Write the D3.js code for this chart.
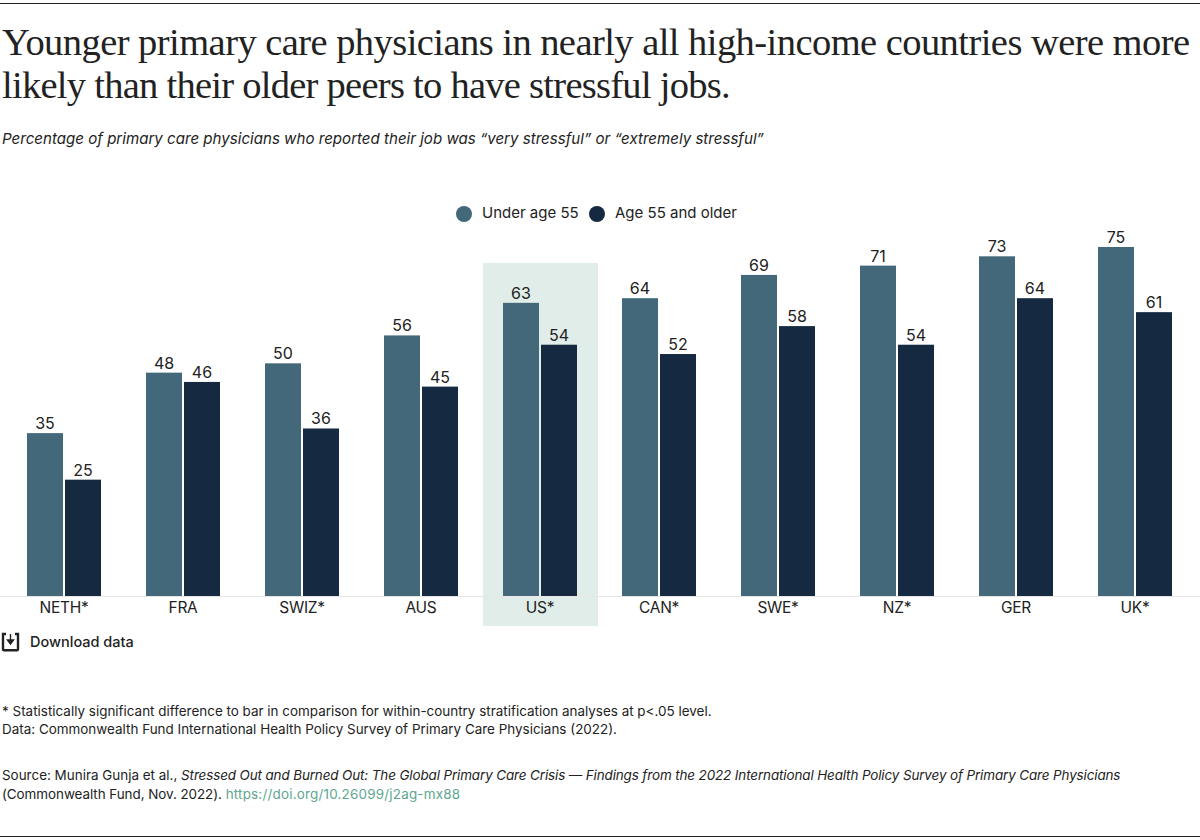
<!DOCTYPE html>
<html>
<head>
<meta charset="utf-8">
<script src="https://cdn.jsdelivr.net/npm/d3@7"></script>
<style>
  html, body { margin: 0; padding: 0; background: #fff; }
  text { font-family: Inter, "Liberation Sans", sans-serif; fill: #222; }
  .title { font-family: "Liberation Serif", serif; font-size: 38.5px; fill: #222; }
  .note { font-size: 13.45px; }
  .axis text { font-size: 15.5px; letter-spacing: -0.3px; fill: #222; }
  .axis path, .axis line { display: none; }
</style>
</head>
<body>
<div class="canvas"></div>
<script>
const countries = ['NETH*', 'FRA', 'SWIZ*', 'AUS', 'US*', 'CAN*', 'SWE*', 'NZ*', 'GER', 'UK*'];
const seriesNames = ['Under age 55', 'Age 55 and older'];
const underAge55 = [35, 48, 50, 56, 63, 64, 69, 71, 73, 75];
const age55Older = [25, 46, 36, 45, 54, 52, 58, 54, 64, 61];
const colors = ['#436879', '#152a40'];
const highlighted = 'US*';

const svg = d3.select('.canvas')
    .append('svg')
    .attr('width', 1200)
    .attr('height', 840)
    .style('display', 'block');

//===============rules and headline===========================//
svg.append('rect').attr('x', 0).attr('y', 3).attr('width', 1200).attr('height', 1).attr('fill', '#222');
svg.append('rect').attr('x', 0).attr('y', 836).attr('width', 1200).attr('height', 1).attr('fill', '#222');

svg.append('text').attr('class', 'title').attr('x', 2).attr('y', 55)
    .style('letter-spacing', '-0.55px')
    .text('Younger primary care physicians in nearly all high-income countries were more');
svg.append('text').attr('class', 'title').attr('x', 2).attr('y', 98)
    .style('letter-spacing', '-0.73px')
    .text('likely than their older peers to have stressful jobs.');

svg.append('text').attr('x', 2).attr('y', 144)
    .style('font-size', '15.1px').style('font-style', 'italic')
    .text('Percentage of primary care physicians who reported their job was “very stressful” or “extremely stressful”');

//===============scales===========================//
const baseline = 596;
const x = d3.scaleBand()
    .domain(countries)
    .range([4.5, 1194.5]);

const xInner = d3.scaleBand()
    .domain(seriesNames)
    .range([x.bandwidth() / 2 - 37, x.bandwidth() / 2 + 39]);

const y = d3.scaleLinear()
    .domain([0, 75])
    .range([baseline, 247]);

//===============highlight band===========================//
svg.append('rect')
    .attr('x', x(highlighted) + x.bandwidth() / 2 - 57)
    .attr('y', 263)
    .attr('width', 115)
    .attr('height', 363)
    .attr('fill', '#e0ede8');

//===============baseline and x axis===========================//
svg.append('rect').attr('x', 0).attr('y', baseline).attr('width', 1200).attr('height', 1).attr('fill', '#e6e6e6');

const xAxisGroup = svg.append('g')
    .attr('class', 'axis')
    .attr('transform', `translate(0,${baseline})`)
    .call(d3.axisBottom(x).tickSize(0).tickPadding(6));

//===============bars===========================//
const groups = svg.selectAll('.group')
    .data(countries)
    .enter()
    .append('g')
    .attr('class', 'group')
    .attr('transform', d => `translate(${x(d)},0)`);

[underAge55, age55Older].forEach((values, s) => {
    groups.append('rect')
        .attr('x', xInner(seriesNames[s]))
        .attr('y', (d, i) => y(values[i]))
        .attr('width', 36)
        .attr('height', (d, i) => baseline - y(values[i]))
        .attr('fill', colors[s]);

    groups.append('text')
        .attr('x', xInner(seriesNames[s]) + 18)
        .attr('y', (d, i) => y(values[i]) - 4)
        .attr('text-anchor', 'middle')
        .style('font-size', '16px')
        .text((d, i) => values[i]);
});

//===============legend===========================//
const legendX = [464, 597];
seriesNames.forEach((name, s) => {
    svg.append('circle').attr('cx', legendX[s]).attr('cy', 214).attr('r', 8).attr('fill', colors[s]);
    svg.append('text').attr('x', legendX[s] + 18).attr('y', 218)
        .style('font-size', '15px')
        .text(name);
});

//===============download link===========================//
const dl = svg.append('g').attr('transform', 'translate(2,633)');
dl.append('path')
    .attr('d', 'M4 1H1V16.2Q1 17.2 2 17.2H15Q16 17.2 16 16.2V1H13')
    .attr('fill', 'none').attr('stroke', '#222').attr('stroke-width', 2.4);
dl.append('path')
    .attr('d', 'M8.5 1V9M5.5 7L8.5 11L11.5 7Z')
    .attr('fill', '#222').attr('stroke', '#222').attr('stroke-width', 1.4);
svg.append('text').attr('x', 30).attr('y', 647)
    .style('font-size', '14.5px').style('font-weight', 500)
    .text('Download data');

//===============notes===========================//
svg.append('text').attr('class', 'note').attr('x', 2).attr('y', 716)
    .text('* Statistically significant difference to bar in comparison for within-country stratification analyses at p<.05 level.');
svg.append('text').attr('class', 'note').attr('x', 2).attr('y', 734)
    .text('Data: Commonwealth Fund International Health Policy Survey of Primary Care Physicians (2022).');

const source = svg.append('text').attr('class', 'note').attr('x', 2).attr('y', 780);
source.append('tspan').text('Source: Munira Gunja et al., ');
source.append('tspan').style('font-style', 'italic').style('letter-spacing', '-0.12px')
    .text('Stressed Out and Burned Out: The Global Primary Care Crisis — Findings from the 2022 International Health Policy Survey of Primary Care Physicians');
const source2 = svg.append('text').attr('class', 'note').attr('x', 2).attr('y', 799);
source2.append('tspan').style('letter-spacing', '-0.06px').text('(Commonwealth Fund, Nov. 2022). ');
source2.append('tspan').style('fill', '#5ea68f').style('letter-spacing', '0.2px').text('https://doi.org/10.26099/j2ag-mx88');
</script>
</body>
</html>
